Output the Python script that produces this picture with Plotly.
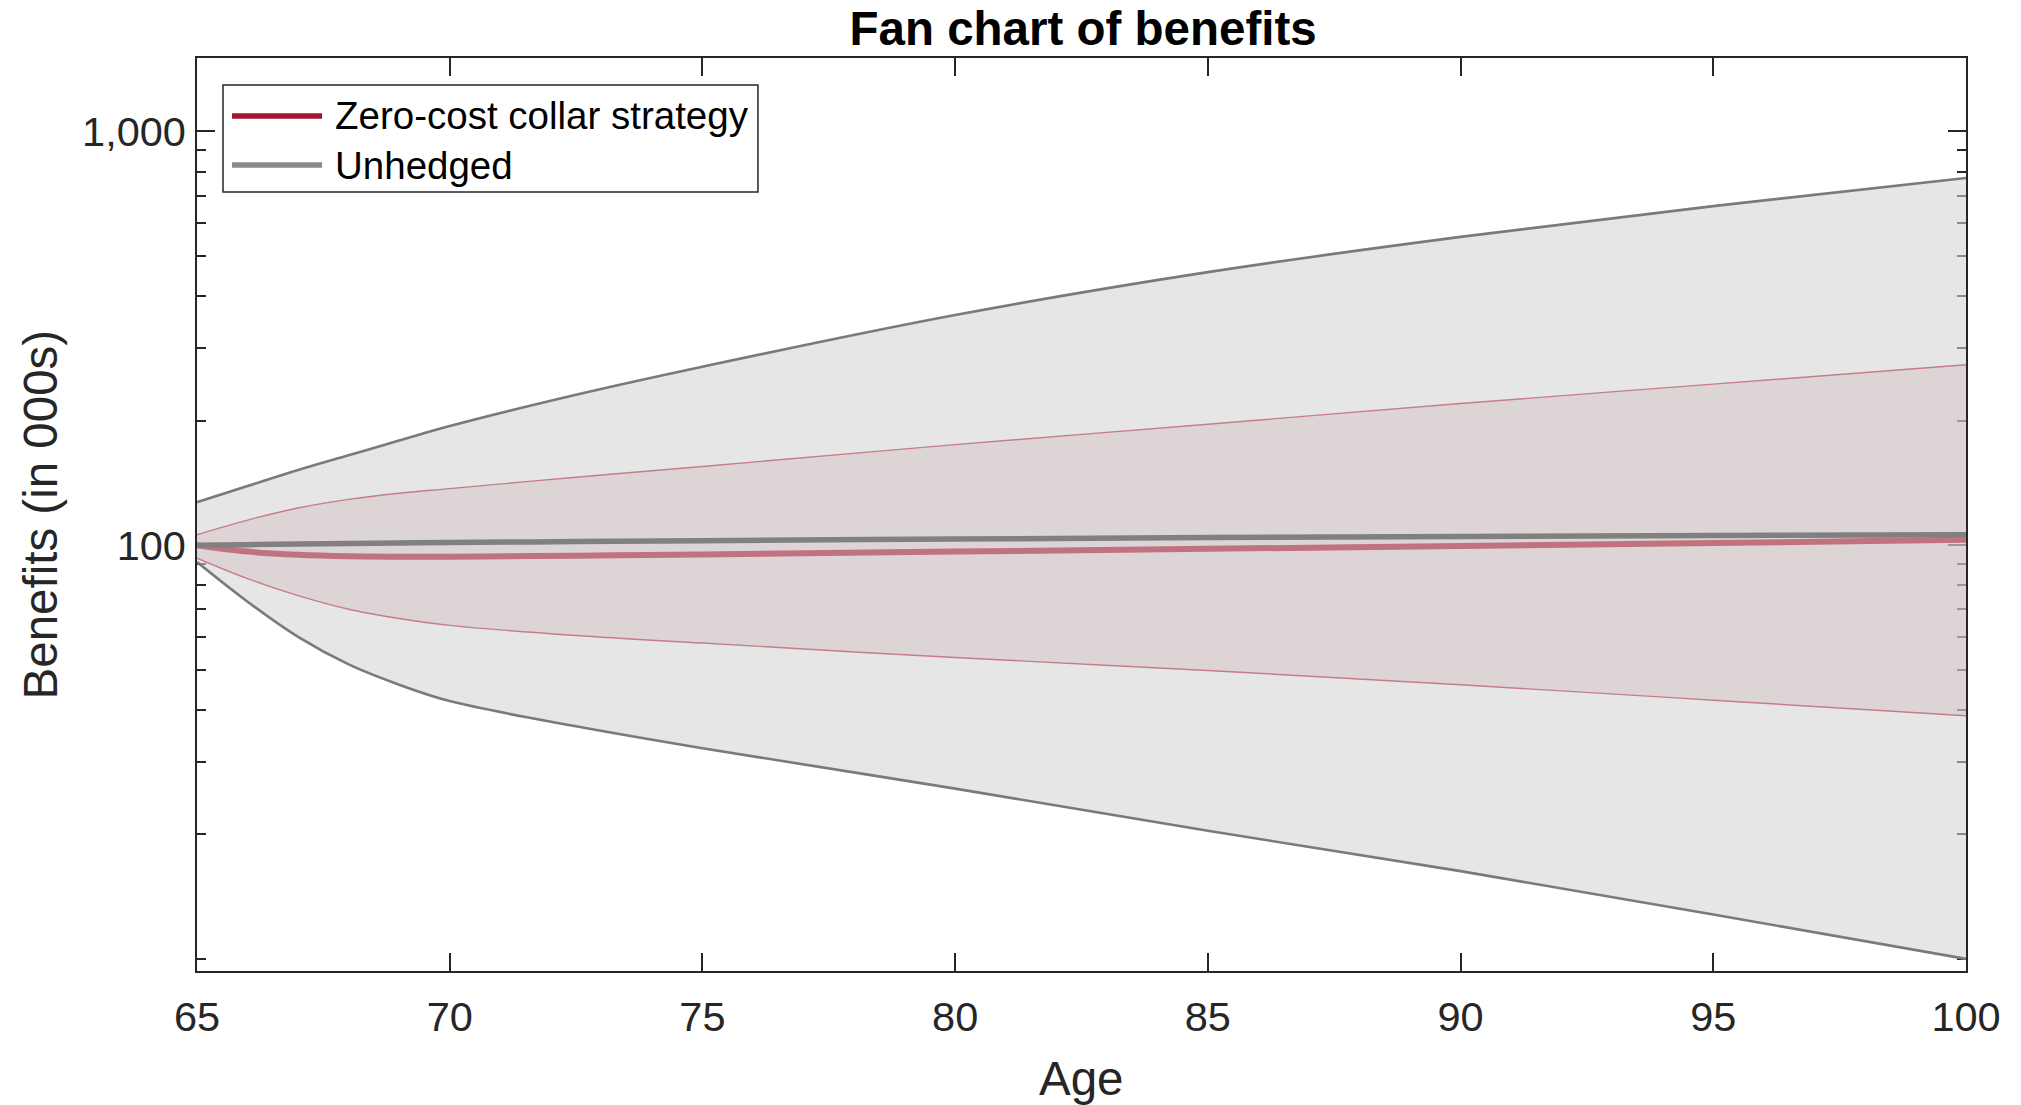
import plotly.graph_objects as go

# Age grid (years)
ages = [65, 66, 67, 68, 69, 70, 72.5, 75, 80, 85, 90, 95, 100]

# Unhedged benefits (in 000s): outer band and median
unhedged_upper = [127, 139, 152, 165, 179, 194, 231, 270, 360, 457, 556, 660, 772]
unhedged_median = [100, 100.3, 100.6, 100.9, 101.2, 101.5, 102, 102.5, 103.5, 104.3, 105, 105.5, 106]
unhedged_lower = [91, 73, 60, 51.5, 46, 42, 36.5, 32.3, 25.8, 20.4, 16.3, 12.8, 10.0]

# Zero-cost collar benefits (in 000s): inner band and median
collar_upper = [106, 115, 123, 129, 133.5, 137, 146, 155, 175, 196, 220, 245, 273]
collar_median = [100, 96.5, 94.8, 94.0, 93.8, 93.8, 94.3, 95, 96.5, 98, 99.5, 101.2, 103]
collar_lower = [93, 83, 75.5, 70, 66.5, 64, 60.5, 58, 53.5, 49.8, 46, 42.2, 38.7]

legend_labels = ["Zero-cost collar strategy", "Unhedged"]
x_ticks = [65, 70, 75, 80, 85, 90, 95, 100]
y_ticks = [100, 1000]
y_ticktext = ["100", "1,000"]
y_minor = [10, 20, 30, 40, 50, 60, 70, 80, 90, 200, 300, 400, 500, 600, 700, 800, 900]

AXIS = "#262626"
FONT = "Liberation Sans, Arial, sans-serif"

fig = go.Figure()

# Shaded bands (fills only)
fig.add_trace(go.Scatter(x=ages, y=unhedged_lower, mode="lines", line=dict(width=0, shape="spline"),
                         showlegend=False, hoverinfo="skip"))
fig.add_trace(go.Scatter(x=ages, y=unhedged_upper, mode="lines", line=dict(width=0, shape="spline"),
                         fill="tonexty", fillcolor="rgba(212,212,212,0.585)", showlegend=False, hoverinfo="skip"))
fig.add_trace(go.Scatter(x=ages, y=collar_lower, mode="lines", line=dict(width=0, shape="spline"),
                         showlegend=False, hoverinfo="skip"))
fig.add_trace(go.Scatter(x=ages, y=collar_upper, mode="lines", line=dict(width=0, shape="spline"),
                         fill="tonexty", fillcolor="rgba(203,173,180,0.3)", showlegend=False, hoverinfo="skip"))

# Band edges
for ys in (unhedged_upper, unhedged_lower):
    fig.add_trace(go.Scatter(x=ages, y=ys, mode="lines", line=dict(color="#7a7a7a", width=2.6, shape="spline"),
                             showlegend=False))
for ys in (collar_upper, collar_lower):
    fig.add_trace(go.Scatter(x=ages, y=ys, mode="lines", line=dict(color="#c67d88", width=1.4, shape="spline"),
                             showlegend=False))

# Medians
fig.add_trace(go.Scatter(x=ages, y=collar_median, mode="lines", name=legend_labels[0],
                         line=dict(color="#c0727e", width=6, shape="spline"), showlegend=False))
fig.add_trace(go.Scatter(x=ages, y=unhedged_median, mode="lines", name=legend_labels[1],
                         line=dict(color="#808080", width=5.5, shape="spline"), showlegend=False))

axis_common = dict(showline=True, linecolor=AXIS, linewidth=1.5, mirror="ticks", ticks="inside",
                   ticklen=18, tickwidth=1.5, tickcolor=AXIS, showgrid=False, zeroline=False,
                   layer="below traces", tickfont=dict(family=FONT, size=41.5, color=AXIS))

fig.update_xaxes(range=[65, 100], tickmode="array", tickvals=x_ticks, ticklabelstandoff=8, **axis_common)
fig.update_yaxes(type="log", range=[0.9708, 3.1775], tickmode="array", tickvals=y_ticks, ticktext=y_ticktext,
                 ticklabelstandoff=1,
                 minor=dict(tickmode="array", tickvals=y_minor, ticks="inside", ticklen=9, tickwidth=1.5,
                            tickcolor=AXIS, showgrid=False),
                 **axis_common)

# Legend box drawn in paper coordinates
lx0, lx1, ly0, ly1 = 0.0147, 0.3171, 0.8532, 0.9704
shapes = [dict(type="rect", xref="paper", yref="paper", x0=lx0, x1=lx1, y0=ly0, y1=ly1,
               line=dict(color=AXIS, width=1.5), fillcolor="white", layer="above")]
annotations = []
legend_colors = ["#a2142f", "#8a8a8a"]
for i, (lab, col) in enumerate(zip(legend_labels, legend_colors)):
    yy = 0.9365 - i * 0.0537
    shapes.append(dict(type="line", xref="paper", yref="paper", x0=0.0198, x1=0.0707, y0=yy, y1=yy,
                       line=dict(color=col, width=5.5), layer="above"))
    annotations.append(dict(xref="paper", yref="paper", x=0.0769, y=yy, text=lab, showarrow=False,
                            xanchor="left", yanchor="middle", font=dict(family=FONT, size=38.5, color="#000")))

# Axis titles
annotations.append(dict(xref="paper", yref="paper", x=0.5, y=-0.1172, text="Age", showarrow=False,
                        xanchor="center", yanchor="middle", font=dict(family=FONT, size=47.5, color=AXIS)))
annotations.append(dict(xref="paper", yref="paper", x=-0.0882, y=0.5, text="Benefits (in 000s)", showarrow=False,
                        textangle=-90, xanchor="center", yanchor="middle",
                        font=dict(family=FONT, size=47.5, color=AXIS)))

fig.update_layout(
    width=2021, height=1105,
    margin=dict(l=197, r=55, t=58, b=134),
    paper_bgcolor="white", plot_bgcolor="white",
    title=dict(text="<b>Fan chart of benefits</b>", x=0.5009, xref="paper", y=1 - 28 / 1105, yref="container",
               xanchor="center", yanchor="middle", font=dict(family=FONT, size=47.5, color="#000")),
    shapes=shapes, annotations=annotations, showlegend=False,
)

fig.write_html("out.html")
